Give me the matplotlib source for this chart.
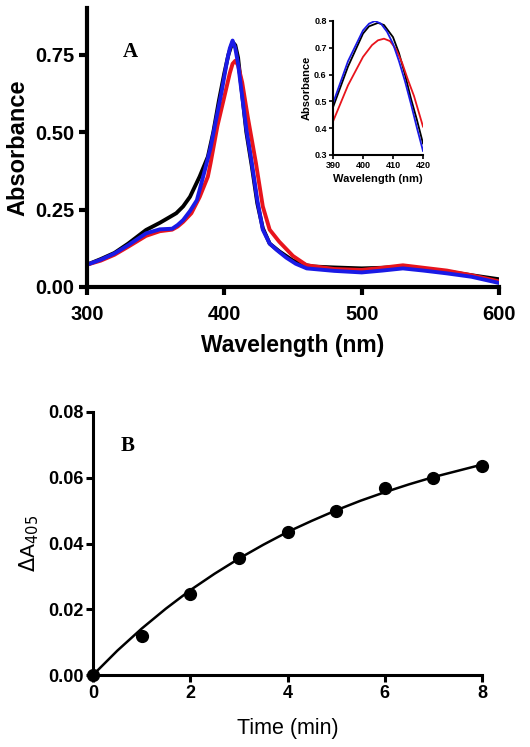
import matplotlib
matplotlib.use("Agg")
import matplotlib.pyplot as plt

# ---------------- Panel A data (wavelength nm, absorbance) ----------------
wl_black = [300, 310, 320, 330, 343, 353, 360, 365, 370, 375, 382, 388, 392, 396, 400, 403, 406, 408, 410, 413, 416,
            420, 424, 428, 433, 440, 450, 460, 465, 480, 500, 515, 530, 545, 562, 580, 600]
abs_black = [0.072, 0.09, 0.11, 0.14, 0.184, 0.207, 0.225, 0.238, 0.26, 0.291, 0.356, 0.42, 0.50, 0.60, 0.69, 0.75,
             0.79, 0.78, 0.74, 0.62, 0.50, 0.39, 0.27, 0.19, 0.14, 0.115, 0.085, 0.07, 0.066, 0.063, 0.060, 0.062,
             0.066, 0.058, 0.05, 0.038, 0.025]

wl_blue = [300, 310, 320, 330, 343, 353, 362, 366, 370, 375, 380, 386, 390, 394, 398, 402, 404, 406, 408, 410, 413, 416,
           420, 424, 428, 433, 438, 445, 452, 460, 480, 500, 515, 530, 545, 562, 580, 600]
abs_blue = [0.072, 0.088, 0.108, 0.135, 0.173, 0.186, 0.188, 0.20, 0.216, 0.245, 0.28, 0.38, 0.45, 0.54, 0.63, 0.73,
            0.77, 0.795, 0.77, 0.72, 0.614, 0.51, 0.40, 0.28, 0.185, 0.14, 0.12, 0.095, 0.075, 0.06, 0.052, 0.047,
            0.053, 0.06, 0.053, 0.044, 0.033, 0.013]

wl_red = [300, 310, 320, 330, 343, 353, 362, 366, 370, 376, 382, 388, 390, 395, 400, 404, 406, 408, 410, 413, 417, 423,
          428, 433, 440, 450, 460, 480, 500, 515, 530, 545, 562, 580, 600]
abs_red = [0.072, 0.085, 0.104, 0.13, 0.165, 0.18, 0.185, 0.195, 0.21, 0.238, 0.29, 0.356, 0.40, 0.52, 0.614, 0.69,
           0.72, 0.73, 0.715, 0.66, 0.55, 0.40, 0.26, 0.185, 0.146, 0.10, 0.07, 0.058, 0.055, 0.062, 0.07, 0.062,
           0.053, 0.038, 0.018]

# Inset (390-420 nm zoom)
inset_wl_black = [390, 395, 400, 402, 405, 407, 410, 412, 414, 416, 418, 420]
inset_abs_black = [0.478, 0.63, 0.753, 0.78, 0.793, 0.785, 0.74, 0.68, 0.60, 0.51, 0.43, 0.343]
inset_wl_blue = [390, 395, 400, 402, 404, 406, 408, 410, 412, 414, 416, 418, 420]
inset_abs_blue = [0.493, 0.65, 0.765, 0.79, 0.80, 0.79, 0.76, 0.715, 0.65, 0.575, 0.49, 0.40, 0.315]
inset_wl_red = [390, 395, 400, 403, 405, 407, 409, 411, 413, 415, 417, 420]
inset_abs_red = [0.425, 0.56, 0.666, 0.71, 0.728, 0.734, 0.725, 0.695, 0.645, 0.58, 0.52, 0.406]

a_xticks = [300, 400, 500, 600]
a_yticks = [0.00, 0.25, 0.50, 0.75]
a_ytick_labels = ["0.00", "0.25", "0.50", "0.75"]
inset_xticks = [390, 400, 410, 420]
inset_yticks = [0.3, 0.4, 0.5, 0.6, 0.7, 0.8]

# ---------------- Panel B data ----------------
time_pts = [0, 1, 2, 3, 4, 5, 6, 7, 8]
dA_pts = [0.0, 0.012, 0.0245, 0.0355, 0.0435, 0.050, 0.057, 0.0598, 0.0635]
fit_t = [0, 0.5, 1, 1.5, 2, 2.5, 3, 3.5, 4, 4.5, 5, 5.5, 6, 6.5, 7, 7.5, 8]
fit_y = [0.0, 0.0074, 0.0141, 0.0202, 0.0258, 0.0308, 0.0354, 0.0396, 0.0435, 0.0469, 0.0501, 0.0530, 0.0556,
         0.0580, 0.0602, 0.0621, 0.0640]
b_xticks = [0, 2, 4, 6, 8]
b_yticks = [0.00, 0.02, 0.04, 0.06, 0.08]

plt.rcParams['font.family'] = ['Liberation Sans', 'DejaVu Sans']

fig = plt.figure(figsize=(5.30, 7.47), dpi=100)
W, H = 530, 747


def px_axes(l, t, r, b):
    return fig.add_axes([l / W, 1 - b / H, (r - l) / W, (b - t) / H])


BLACK, RED, BLUE = 'black', '#e8141c', '#1a1ae6'

# ---------------- Panel A ----------------
axA = px_axes(87, 8, 499, 287)
axA.plot(wl_black, abs_black, color=BLACK, lw=2.8, solid_joinstyle='round')
axA.plot(wl_red, abs_red, color=RED, lw=2.8, solid_joinstyle='round')
axA.plot(wl_blue, abs_blue, color=BLUE, lw=2.8, solid_joinstyle='round')
axA.set_xlim(300, 600)
axA.set_ylim(0, 0.9)
axA.set_xticks(a_xticks)
axA.set_yticks(a_yticks)
axA.set_yticklabels(a_ytick_labels)
for s in ['top', 'right']:
    axA.spines[s].set_visible(False)
for s in ['left', 'bottom']:
    axA.spines[s].set_linewidth(3)
axA.tick_params(width=3, length=6, labelsize=14.5)
axA.tick_params(axis='x', pad=7)
axA.tick_params(axis='y', pad=3)
for lab in axA.get_xticklabels() + axA.get_yticklabels():
    lab.set_fontweight('bold')
axA.set_xlabel('Wavelength (nm)', fontsize=16.5, fontweight='bold', labelpad=7)
axA.set_ylabel('Absorbance', fontsize=17, fontweight='bold', labelpad=4)
axA.text(130 / W, 1 - 52 / H, 'A', transform=fig.transFigure, fontsize=15, fontweight='bold',
         family=['Liberation Serif', 'DejaVu Serif'], ha='center', va='center')

# Inset
axI = px_axes(333, 21, 423, 155)
axI.plot(inset_wl_black, inset_abs_black, color=BLACK, lw=1.3)
axI.plot(inset_wl_red, inset_abs_red, color=RED, lw=1.3)
axI.plot(inset_wl_blue, inset_abs_blue, color=BLUE, lw=1.3)
axI.set_xlim(390, 420)
axI.set_ylim(0.3, 0.8)
axI.set_xticks(inset_xticks)
axI.set_yticks(inset_yticks)
for s in ['top', 'right']:
    axI.spines[s].set_visible(False)
for s in ['left', 'bottom']:
    axI.spines[s].set_linewidth(1.5)
axI.tick_params(width=1.2, length=3, labelsize=6.5, pad=1.5)
for lab in axI.get_xticklabels() + axI.get_yticklabels():
    lab.set_fontweight('bold')
axI.set_xlabel('Wavelength (nm)', fontsize=8, fontweight='bold', labelpad=3)
axI.set_ylabel('Absorbance', fontsize=8, fontweight='bold', labelpad=2)
axI.patch.set_alpha(0)

# ---------------- Panel B ----------------
axB = px_axes(93, 412, 482, 675)
axB.plot(fit_t, fit_y, color='black', lw=1.8, zorder=2)
axB.plot(time_pts, dA_pts, 'o', color='black', ms=8.5, zorder=3, clip_on=False)
axB.set_xlim(0, 8)
axB.set_ylim(0, 0.08)
axB.set_xticks(b_xticks)
axB.set_yticks(b_yticks)
axB.set_yticklabels([f"{v:.2f}" for v in b_yticks])
for s in ['top', 'right']:
    axB.spines[s].set_visible(False)
for s in ['left', 'bottom']:
    axB.spines[s].set_linewidth(2.2)
axB.tick_params(width=2.2, length=5, labelsize=13, pad=2)
for lab in axB.get_xticklabels() + axB.get_yticklabels():
    lab.set_fontweight('bold')
axB.set_xlabel('Time (min)', fontsize=15.5, labelpad=12)
axB.set_ylabel(r'$\Delta$A$_{405}$', fontsize=15, labelpad=5)
axB.text(128 / W, 1 - 446 / H, 'B', transform=fig.transFigure, fontsize=15, fontweight='bold',
         family=['Liberation Serif', 'DejaVu Serif'], ha='center', va='center')

fig.savefig('out.png', dpi=100)
